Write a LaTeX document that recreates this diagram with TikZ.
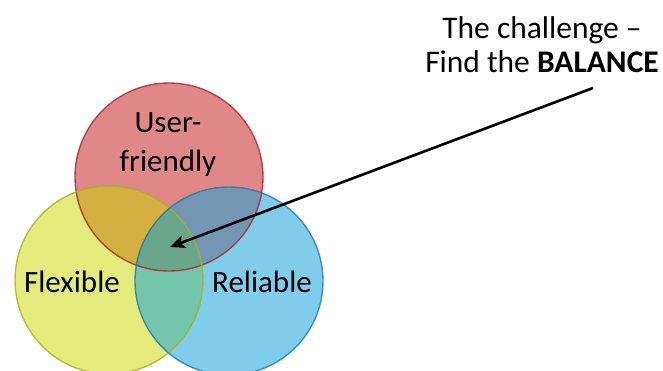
\documentclass[tikz,border=0pt]{standalone}
\usepackage{fontspec}
\setmainfont{Carlito}
\usetikzlibrary{arrows.meta}
\definecolor{userfill}{RGB}{224,136,136}
\definecolor{flexfill}{RGB}{226,235,123}
\definecolor{relfill}{RGB}{127,205,234}
\definecolor{userflex}{RGB}{212,175,65}
\definecolor{userrel}{RGB}{114,150,180}
\definecolor{flexrel}{RGB}{115,198,172}
\definecolor{allthree}{RGB}{106,166,140}
\definecolor{userline}{RGB}{165,38,44}
\definecolor{flexline}{RGB}{168,178,30}
\definecolor{relline}{RGB}{28,122,170}
\tikzset{
  setlabel/.style={font=\fontsize{31}{39}\selectfont, align=center, inner sep=0pt},
  toplabel/.style={font=\fontsize{31.5}{34}\selectfont, align=center, inner sep=0pt},
  ring/.style={line width=1.4pt, draw opacity=.8},
  pointer/.style={-{Stealth[length=15pt,width=13pt,inset=4pt]}, line width=2.6pt}
}
\begin{document}
\begin{tikzpicture}[x=1pt,y=-1pt]
  \useasboundingbox (0,0) rectangle (663,370);
  \clip (0,0) rectangle (663,370);
  \def\rad{94}

  \coordinate (user) at (169,177);
  \coordinate (flex) at (109,280);
  \coordinate (rel) at (229,281);

  \fill[userfill] (user) circle[radius=\rad];
  \fill[flexfill] (flex) circle[radius=\rad];
  \fill[relfill] (rel) circle[radius=\rad];
  \begin{scope}
    \clip (flex) circle[radius=\rad];
    \fill[flexrel] (rel) circle[radius=\rad];
  \end{scope}
  \begin{scope}
    \clip (user) circle[radius=\rad];
    \fill[userflex] (flex) circle[radius=\rad];
    \fill[userrel] (rel) circle[radius=\rad];
    \clip (flex) circle[radius=\rad];
    \fill[allthree] (rel) circle[radius=\rad];
  \end{scope}
  \draw[ring, userline] (user) circle[radius=\rad];
  \draw[ring, flexline] (flex) circle[radius=\rad];
  \draw[ring, relline] (rel) circle[radius=\rad];

  \node[setlabel] (userlabel) at (168,145) {User-\\friendly};
  \node[setlabel] (flexlabel) at (72,282) {Flexible};
  \node[setlabel] (rellabel) at (262,282) {Reliable};

  \node[toplabel] (challenge) at (542,45) {The challenge --\\Find the \textbf{BALANCE}};
  \coordinate (from) at (593,88);
  \coordinate (core) at (170,247);
  \draw[pointer] (from) -- (core);
\end{tikzpicture}
\end{document}
